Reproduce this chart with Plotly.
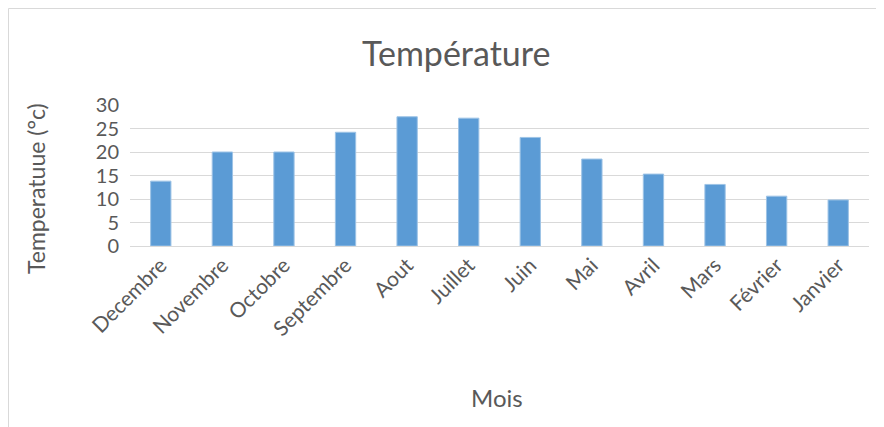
import plotly.graph_objects as go

months = ["Decembre", "Novembre", "Octobre", "Septembre", "Aout", "Juillet",
          "Juin", "Mai", "Avril", "Mars", "Février", "Janvier"]
temperatures = [13.8, 20.0, 20.0, 24.2, 27.5, 27.2, 23.1, 18.5, 15.3, 13.1, 10.6, 9.8]
y_ticks = [0, 5, 10, 15, 20, 25, 30]

FONT = "Lato"
GREY = "#595959"

OFF = 8  # page body margin
W, H = 884 - OFF, 427 - OFF
L, R, T, B = 130 - OFF, 15, 105 - OFF, 427 - 246
pw, ph = W - L - R, H - T - B

def px(x):
    return (x - OFF - L) / pw

def py(y):
    return (H - B - (y - OFF)) / ph

fig = go.Figure(go.Bar(
    x=months, y=temperatures,
    marker=dict(color="#5b9bd5", line=dict(color="#9dc3e6", width=1)),
    width=0.33,
))

fig.update_layout(
    width=W, height=H,
    margin=dict(l=L, r=R, t=T, b=B),
    paper_bgcolor="white", plot_bgcolor="white",
    font=dict(family=FONT, color=GREY),
    showlegend=False,
    xaxis=dict(
        tickangle=-45, tickfont=dict(size=21, color=GREY),
        showgrid=False, showline=False, ticks="", ticklabelstandoff=2,
    ),
    yaxis=dict(
        range=[0, 30], tickvals=y_ticks, tickfont=dict(size=20, color=GREY),
        showgrid=True, gridcolor="#d9d9d9", gridwidth=1,
        zeroline=True, zerolinecolor="#d9d9d9", zerolinewidth=1,
        showline=False, ticks="", ticklabelstandoff=10,
    ),
    annotations=[
        dict(text="Température", x=px(456), y=py(52), xref="paper", yref="paper",
             showarrow=False, font=dict(size=34, color=GREY, family=FONT),
             xanchor="center", yanchor="middle"),
        dict(text="Temperatuue (°c)", x=px(36), y=py(189), xref="paper", yref="paper",
             showarrow=False, textangle=-90, font=dict(size=23, color=GREY, family=FONT),
             xanchor="center", yanchor="middle"),
        dict(text="Mois", x=px(497), y=py(397), xref="paper", yref="paper",
             showarrow=False, font=dict(size=24, color=GREY, family=FONT),
             xanchor="center", yanchor="middle"),
    ],
    shapes=[
        dict(type="rect", xref="paper", yref="paper",
             x0=px(OFF + 0.5), x1=px(880), y0=py(440), y1=py(OFF + 0.5),
             line=dict(color="#d9d9d9", width=1), fillcolor="rgba(0,0,0,0)",
             layer="below"),
    ],
)

fig.write_html("out.html")
